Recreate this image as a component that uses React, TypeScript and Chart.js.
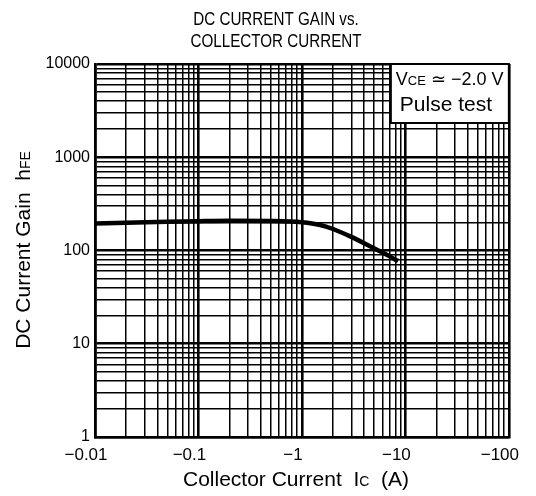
import React, { useEffect, useRef } from 'react';
import { Chart, registerables } from 'chart.js';

Chart.register(...registerables);

// ---- data ----
const collectorCurrentA = [0.01, 0.02, 0.05, 0.1, 0.2, 0.5, 1, 1.5, 2, 3, 4.5, 6, 8.5];
const dcCurrentGain = [195, 198, 203, 206, 208, 207, 201, 188, 170, 140, 112, 95, 77];

const xTickValues = [0.01, 0.1, 1, 10, 100];
const xTickLabels = ['\u22120.01', '\u22120.1', '\u22121', '\u221210', '\u2212100'];
const yTickValues = [1, 10, 100, 1000, 10000];
const yTickLabels = ['1', '10', '100', '1000', '10000'];
const gridMantissas = [1, 2, 3, 4, 5, 6, 7, 8, 9];

const titleLines = ['DC CURRENT GAIN vs.', 'COLLECTOR CURRENT'];
const xTitleRuns = [
  { text: 'Collector Current  I', small: false },
  { text: 'C', small: true },
  { text: '  (A)', small: false },
];
const yTitleRuns = [
  { text: 'DC Current Gain  h', small: false },
  { text: 'FE', small: true },
];
const noteLine1Runs = [
  { text: 'V', small: false },
  { text: 'CE', small: true },
  { text: ' \u2243 \u22122.0 V', small: false },
];
const noteLine2 = 'Pulse test';

const FONT = '"Liberation Sans", Arial, Helvetica, sans-serif';

function isDecade(v: number) {
  const l = Math.log10(v);
  return Math.abs(l - Math.round(l)) < 1e-9;
}

function decadeTicks(min: number, max: number) {
  const out: { value: number }[] = [];
  for (let e = Math.round(Math.log10(min)); e <= Math.round(Math.log10(max)); e++) {
    for (const m of gridMantissas) {
      const v = parseFloat((m * Math.pow(10, e)).toPrecision(6));
      if (v >= min - 1e-12 && v <= max + 1e-9) out.push({ value: v });
    }
  }
  return out;
}

function labelFor(v: number, values: number[], labels: string[]) {
  for (let i = 0; i < values.length; i++) {
    if (Math.abs(values[i] - v) / values[i] < 1e-6) return labels[i];
  }
  return '';
}

type Run = { text: string; small: boolean };

function drawRuns(ctx: CanvasRenderingContext2D, runs: Run[], cx: number, y: number, big: number, small: number, align: 'center' | 'left' = 'center') {
  const widths = runs.map((r) => {
    ctx.font = `${r.small ? small : big}px ${FONT}`;
    return ctx.measureText(r.text).width;
  });
  const total = widths.reduce((a, b) => a + b, 0);
  let x = align === 'center' ? cx - total / 2 : cx;
  ctx.textAlign = 'left';
  ctx.textBaseline = 'alphabetic';
  runs.forEach((r, i) => {
    ctx.font = `${r.small ? small : big}px ${FONT}`;
    ctx.fillText(r.text, x, y);
    x += widths[i];
  });
}

const decorPlugin = {
  id: 'decor',
  afterDraw(chart: any) {
    const ctx: CanvasRenderingContext2D = chart.ctx;
    const a = chart.chartArea;
    ctx.save();
    ctx.fillStyle = '#000';

    // title (condensed)
    ctx.textAlign = 'center';
    ctx.textBaseline = 'middle';
    ctx.font = `19px ${FONT}`;
    titleLines.forEach((t, i) => {
      ctx.save();
      ctx.translate(276, 20 + i * 22);
      ctx.scale(0.8, 1);
      ctx.fillText(t, 0, 0);
      ctx.restore();
    });

    // x axis title
    drawRuns(ctx, xTitleRuns, 296, 486, 21, 14);

    // y axis title
    ctx.save();
    ctx.translate(23, 250);
    ctx.rotate(-Math.PI / 2);
    drawRuns(ctx, yTitleRuns, 0, 7, 21, 14);
    ctx.restore();

    // note box
    const bx = a.right - 118;
    const by = a.top;
    const bw = 118;
    const bh = 59;
    ctx.fillStyle = '#fff';
    ctx.fillRect(bx, by, bw, bh);
    ctx.strokeStyle = '#000';
    ctx.lineWidth = 2;
    ctx.strokeRect(bx, by, bw, bh);
    ctx.fillStyle = '#000';
    drawRuns(ctx, noteLine1Runs, bx + 5, by + 21, 18, 13, 'left');
    ctx.font = `21px ${FONT}`;
    ctx.textAlign = 'left';
    ctx.fillText(noteLine2, bx + 9, by + 47);

    ctx.restore();
  },
};

export default function App() {
  const ref = useRef<HTMLCanvasElement | null>(null);

  useEffect(() => {
    document.body.style.margin = '0';
    const canvas = ref.current;
    if (!canvas) return;
    const points = collectorCurrentA.map((x, i) => ({ x, y: dcCurrentGain[i] }));
    const gridWidth = (c: any) => (c.tick && isDecade(c.tick.value) ? 2.6 : 1.5);

    const chart = new Chart(canvas, {
      type: 'line',
      data: {
        datasets: [
          {
            data: points,
            borderColor: '#000',
            borderWidth: 4.5,
            pointRadius: 0,
            cubicInterpolationMode: 'monotone',
            fill: false,
          },
        ],
      },
      options: {
        animation: false,
        responsive: false,
        devicePixelRatio: 1,
        layout: { padding: { left: 0, top: 64, right: 26, bottom: 0 } },
        plugins: { legend: { display: false }, title: { display: false }, tooltip: { enabled: false } },
        scales: {
          x: {
            type: 'logarithmic',
            min: 0.01,
            max: 100,
            afterBuildTicks: (s: any) => {
              s.ticks = decadeTicks(0.01, 100);
            },
            afterFit: (s: any) => {
              s.height = 59;
            },
            grid: { color: '#000', lineWidth: gridWidth, drawTicks: false },
            border: { display: true, color: '#000', width: 2.6 },
            ticks: {
              autoSkip: false,
              maxRotation: 0,
              padding: 8,
              labelOffset: -9,
              color: '#000',
              font: { size: 17, family: FONT },
              callback: (v: any) => labelFor(Number(v), xTickValues, xTickLabels),
            },
          },
          y: {
            type: 'logarithmic',
            min: 1,
            max: 10000,
            afterBuildTicks: (s: any) => {
              s.ticks = decadeTicks(1, 10000);
            },
            afterFit: (s: any) => {
              s.width = 95;
            },
            grid: { color: '#000', lineWidth: gridWidth, drawTicks: false },
            border: { display: true, color: '#000', width: 2.6 },
            ticks: {
              autoSkip: false,
              padding: 5,
              color: '#000',
              font: { size: 16, family: FONT },
              callback: (v: any) => labelFor(Number(v), yTickValues, yTickLabels),
            },
          },
        },
      },
      plugins: [decorPlugin],
    } as any);

    return () => chart.destroy();
  }, []);

  return (
    <div style={{ width: 536, height: 496, background: '#fff' }}>
      <canvas ref={ref} width={536} height={496} style={{ display: 'block' }} />
    </div>
  );
}
